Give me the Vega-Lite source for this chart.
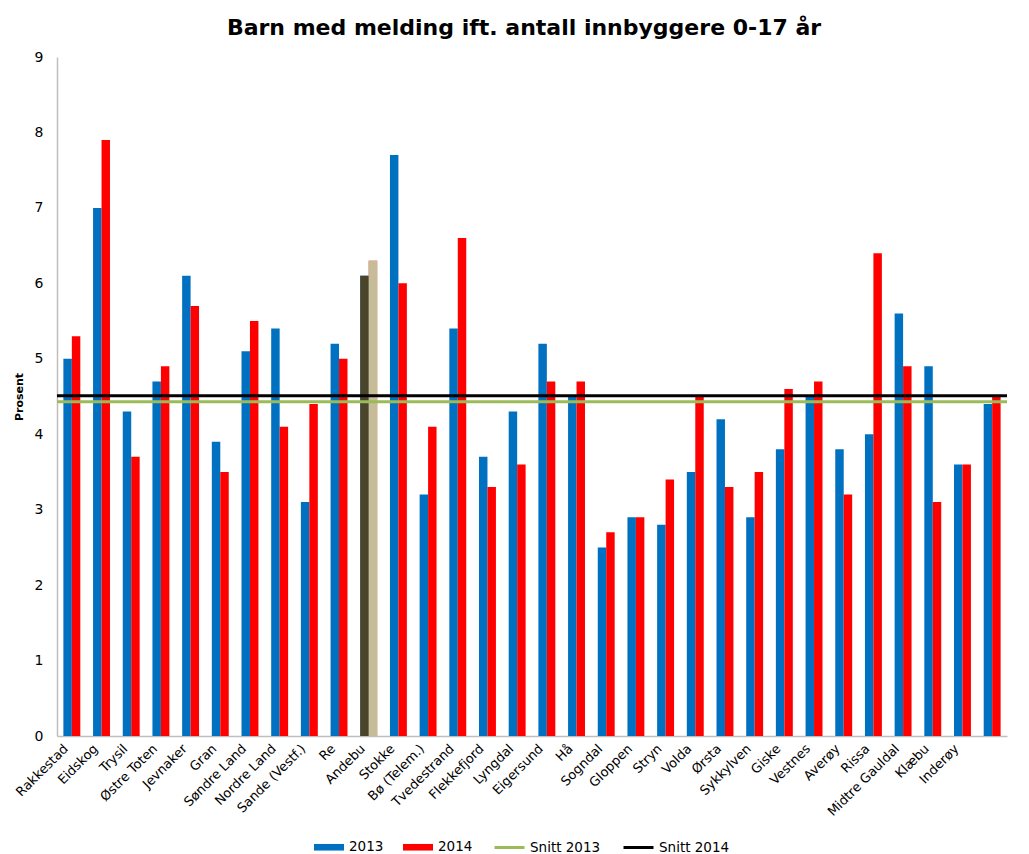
{
  "$schema": "https://vega.github.io/schema/vega-lite/v6.json",
  "width": 950,
  "height": 679,
  "autosize": {"type": "none"},
  "padding": {"left": 57, "top": 57, "right": 22, "bottom": 118},
  "background": "white",
  "title": {
    "text": "Barn med melding ift. antall innbyggere 0-17 år",
    "font": "DejaVu Sans",
    "fontSize": 22,
    "fontWeight": "bold",
    "color": "#000000",
    "offset": 10,
    "anchor": "middle",
    "dx": -8
  },
  "config": {
    "view": {"stroke": null},
    "legend": {"padding": 0}
  },
  "datasets": {
    "kommuner": [
      {"kommune": "Rakkestad", "v2013": 5.0, "v2014": 5.3},
      {"kommune": "Eidskog", "v2013": 7.0, "v2014": 7.9},
      {"kommune": "Trysil", "v2013": 4.3, "v2014": 3.7},
      {"kommune": "Østre Toten", "v2013": 4.7, "v2014": 4.9},
      {"kommune": "Jevnaker", "v2013": 6.1, "v2014": 5.7},
      {"kommune": "Gran", "v2013": 3.9, "v2014": 3.5},
      {"kommune": "Søndre Land", "v2013": 5.1, "v2014": 5.5},
      {"kommune": "Nordre Land", "v2013": 5.4, "v2014": 4.1},
      {"kommune": "Sande (Vestf.)", "v2013": 3.1, "v2014": 4.4},
      {"kommune": "Re", "v2013": 5.2, "v2014": 5.0},
      {"kommune": "Andebu", "v2013": 6.1, "v2014": 6.3},
      {"kommune": "Stokke", "v2013": 7.7, "v2014": 6.0},
      {"kommune": "Bø (Telem.)", "v2013": 3.2, "v2014": 4.1},
      {"kommune": "Tvedestrand", "v2013": 5.4, "v2014": 6.6},
      {"kommune": "Flekkefjord", "v2013": 3.7, "v2014": 3.3},
      {"kommune": "Lyngdal", "v2013": 4.3, "v2014": 3.6},
      {"kommune": "Eigersund", "v2013": 5.2, "v2014": 4.7},
      {"kommune": "Hå", "v2013": 4.5, "v2014": 4.7},
      {"kommune": "Sogndal", "v2013": 2.5, "v2014": 2.7},
      {"kommune": "Gloppen", "v2013": 2.9, "v2014": 2.9},
      {"kommune": "Stryn", "v2013": 2.8, "v2014": 3.4},
      {"kommune": "Volda", "v2013": 3.5, "v2014": 4.5},
      {"kommune": "Ørsta", "v2013": 4.2, "v2014": 3.3},
      {"kommune": "Sykkylven", "v2013": 2.9, "v2014": 3.5},
      {"kommune": "Giske", "v2013": 3.8, "v2014": 4.6},
      {"kommune": "Vestnes", "v2013": 4.5, "v2014": 4.7},
      {"kommune": "Averøy", "v2013": 3.8, "v2014": 3.2},
      {"kommune": "Rissa", "v2013": 4.0, "v2014": 6.4},
      {"kommune": "Midtre Gauldal", "v2013": 5.6, "v2014": 4.9},
      {"kommune": "Klæbu", "v2013": 4.9, "v2014": 3.1},
      {"kommune": "Inderøy", "v2013": 3.6, "v2014": 3.6},
      {"kommune": " ", "v2013": 4.4, "v2014": 4.5}
    ],
    "serier": [
      {"kol": "v2013", "serie": "2013"},
      {"kol": "v2014", "serie": "2014"}
    ],
    "snitt": [
      {"serie": "Snitt 2013", "verdi": 4.43},
      {"serie": "Snitt 2014", "verdi": 4.51}
    ]
  },
  "layer": [
    {
      "data": {"name": "kommuner"},
      "transform": [
        {"fold": ["v2013", "v2014"], "as": ["kol", "verdi"]},
        {"lookup": "kol", "from": {"data": {"name": "serier"}, "key": "kol", "fields": ["serie"]}}
      ],
      "mark": {"type": "bar"},
      "encoding": {
        "x": {
          "field": "kommune",
          "type": "nominal",
          "sort": null,
          "scale": {"paddingInner": 0.43, "paddingOuter": 0.215},
          "axis": {
            "title": null,
            "labelAngle": -45,
            "labelAlign": "right",
            "labelBaseline": "top",
            "labelFont": "DejaVu Sans",
            "labelFontSize": 13,
            "labelColor": "#000000",
            "labelPadding": 6,
            "labelOffset": -10,
            "ticks": false,
            "domainColor": "#BFBFBF",
            "domainWidth": 1.5
          }
        },
        "xOffset": {"field": "serie", "type": "nominal", "scale": {"paddingInner": 0}},
        "y": {
          "field": "verdi",
          "type": "quantitative",
          "scale": {"domain": [0, 9], "nice": false},
          "axis": {
            "title": "Prosent",
            "titleFont": "DejaVu Sans",
            "titleFontSize": 11,
            "titleFontWeight": "bold",
            "titleColor": "#000000",
            "titlePadding": 10,
            "values": [0, 1, 2, 3, 4, 5, 6, 7, 8, 9],
            "format": "d",
            "labelFont": "DejaVu Sans",
            "labelFontSize": 14,
            "labelColor": "#000000",
            "labelPadding": 14,
            "ticks": false,
            "grid": false,
            "domainColor": "#BFBFBF",
            "domainWidth": 1.5
          }
        },
        "color": {
          "field": "serie",
          "type": "nominal",
          "scale": {
            "domain": ["2013", "2014"],
            "range": ["#0070C0", "#FF0000"]
          },
          "legend": {
            "title": null,
            "orient": "none",
            "direction": "horizontal",
            "legendX": 256,
            "legendY": 774,
            "labelFont": "DejaVu Sans",
            "labelFontSize": 13.5,
            "labelColor": "#000000",
            "labelOffset": 4,
            "columnPadding": 18,
            "symbolSize": 900,
            "symbolType": "M-1,-0.22H1V0.22H-1Z"
          }
        }
      }
    },
    {
      "data": {"name": "kommuner"},
      "transform": [
        {"filter": "datum.kommune === 'Andebu'"},
        {"fold": ["v2013", "v2014"], "as": ["kol", "verdi"]},
        {"lookup": "kol", "from": {"data": {"name": "serier"}, "key": "kol", "fields": ["serie"]}}
      ],
      "mark": {"type": "bar"},
      "encoding": {
        "x": {"field": "kommune", "type": "nominal", "sort": null},
        "xOffset": {"field": "serie", "type": "nominal"},
        "y": {"field": "verdi", "type": "quantitative"},
        "color": {"condition": {"test": "datum.serie === '2013'", "value": "#4A452A"}, "value": "#C4BD97"}
      }
    },
    {
      "data": {"name": "snitt"},
      "mark": {"type": "rule", "strokeWidth": 3},
      "encoding": {
        "y": {"field": "verdi", "type": "quantitative"},
        "stroke": {
          "field": "serie",
          "type": "nominal",
          "scale": {"domain": ["Snitt 2013", "Snitt 2014"], "range": ["#9BBB59", "#000000"]},
          "legend": {
            "title": null,
            "orient": "none",
            "direction": "horizontal",
            "legendX": 436,
            "legendY": 774,
            "labelFont": "DejaVu Sans",
            "labelFontSize": 13.5,
            "labelColor": "#000000",
            "labelOffset": 4,
            "columnPadding": 16,
            "symbolSize": 900,
            "symbolType": "stroke",
            "symbolStrokeWidth": 3
          }
        }
      }
    }
  ]
}
